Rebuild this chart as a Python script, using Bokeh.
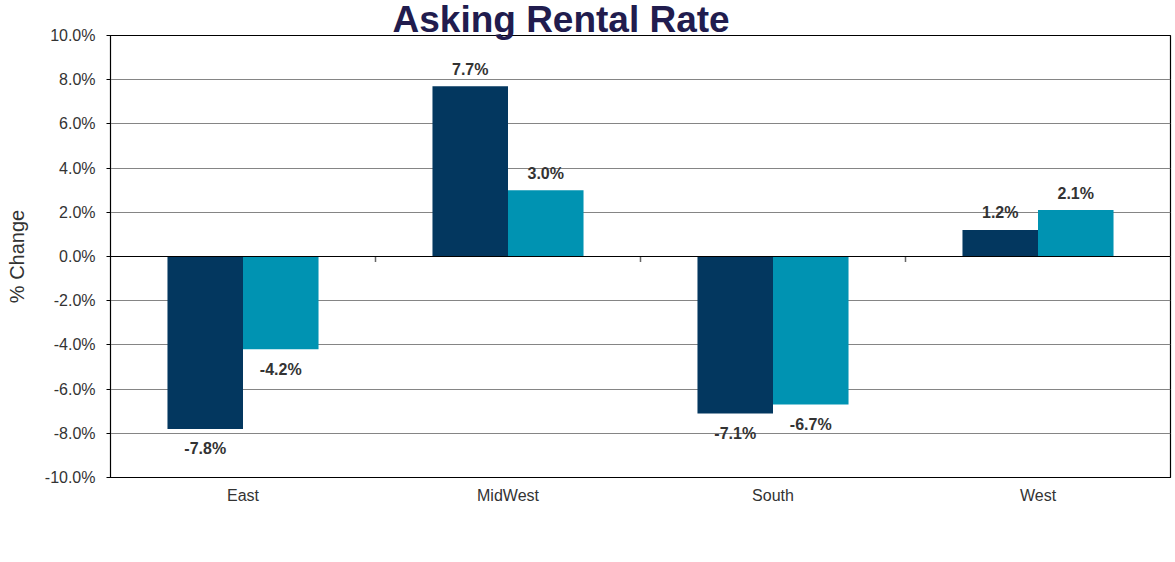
from bokeh.plotting import figure
from bokeh.models import (ColumnDataSource, FactorRange, Range1d, Span, Legend, LegendItem,
                          FixedTicker, PrintfTickFormatter)
from bokeh.transform import dodge
from bokeh.core.properties import value
from bokeh.embed import file_html
from bokeh.resources import INLINE

regions = ["East", "MidWest", "South", "West"]
median = [-7.8, 7.7, -7.1, 1.2]
average = [-4.2, 3.0, -6.7, 2.1]
y_ticks = [-10, -8, -6, -4, -2, 0, 2, 4, 6, 8, 10]
title_text = "Asking Rental Rate"
y_label = "% Change"
series_names = ["Median", "Average"]

C_MED = "#03375F"
C_AVG = "#0093B2"
TXT = "#333333"
FONT = "Liberation Sans"

p = figure(x_range=FactorRange(factors=regions, range_padding=0), y_range=Range1d(-10, 10),
           frame_width=1060, frame_height=442, output_backend="svg", toolbar_location=None,
           min_border_left=110, min_border_right=2, min_border_top=35, min_border_bottom=80)
p.background_fill_color = "white"
p.border_fill_color = "white"
p.outline_line_color = "black"
p.outline_line_width = 1.2

# title
p.title.text = title_text
p.title.align = "left"
p.title.offset = 282
p.title.standoff = -9
p.title.text_font = FONT
p.title.text_font_size = "37px"
p.title.text_font_style = "bold"
p.title.text_color = "#211C4E"

def lab(v):
    return f"{v:.1f}%"

src = ColumnDataSource(dict(
    x=regions, med=median, avg=average,
    med_lab=[lab(v) for v in median], avg_lab=[lab(v) for v in average],
    med_off=[-17 if v >= 0 else 20 for v in median],
    avg_off=[-17 if v >= 0 else 20 for v in average],
))

bw = 0.285
r_med = p.vbar(x=dodge("x", -bw / 2, range=p.x_range), top="med", bottom=0, width=bw,
               source=src, fill_color=C_MED, line_color=None)
r_avg = p.vbar(x=dodge("x", bw / 2, range=p.x_range), top="avg", bottom=0, width=bw,
               source=src, fill_color=C_AVG, line_color=None)

p.text(x=dodge("x", -bw / 2, range=p.x_range), y="med", text="med_lab", y_offset="med_off",
       source=src, text_align="center", text_baseline="middle", text_font=value(FONT),
       text_font_size="16px", text_font_style="bold", text_color=TXT)
p.text(x=dodge("x", bw / 2, range=p.x_range), y="avg", text="avg_lab", y_offset="avg_off",
       source=src, text_align="center", text_baseline="middle", text_font=value(FONT),
       text_font_size="16px", text_font_style="bold", text_color=TXT)

# zero line and category separator ticks
p.add_layout(Span(location=0, dimension="width", line_color="black", line_width=1.2))
bsrc = ColumnDataSource(dict(b=regions[:-1], y0=[0] * 3, y1=[-0.25] * 3))
p.segment(x0=dodge("b", 0.5, range=p.x_range), x1=dodge("b", 0.5, range=p.x_range),
          y0="y0", y1="y1", source=bsrc, line_color="#666666", line_width=1.5)

# grid
p.xgrid.grid_line_color = None
p.ygrid.ticker = FixedTicker(ticks=y_ticks)
p.ygrid.grid_line_color = "#858585"
p.ygrid.grid_line_width = 1.2

# y axis
p.yaxis.ticker = FixedTicker(ticks=y_ticks)
p.yaxis.formatter = PrintfTickFormatter(format="%.1f%%")
p.yaxis.major_label_text_font = FONT
p.yaxis.major_label_text_font_size = "16px"
p.yaxis.major_label_text_color = TXT
p.yaxis.major_tick_out = 4
p.yaxis.major_tick_in = 0
p.yaxis.minor_tick_line_color = None
p.yaxis.major_tick_line_color = "black"
p.yaxis.axis_line_color = "black"
p.yaxis.major_label_standoff = 11
p.yaxis.axis_label = y_label
p.yaxis.axis_label_text_font = FONT
p.yaxis.axis_label_text_font_size = "20px"
p.yaxis.axis_label_text_font_style = "normal"
p.yaxis.axis_label_text_color = TXT
p.yaxis.axis_label_standoff = 14

# x axis
p.xaxis.major_label_text_font = FONT
p.xaxis.major_label_text_font_size = "16px"
p.xaxis.major_label_text_color = TXT
p.xaxis.major_tick_line_color = None
p.xaxis.minor_tick_line_color = None
p.xaxis.axis_line_color = "black"
p.xaxis.major_label_standoff = 3

# legend below the frame
legend = Legend(items=[LegendItem(label=series_names[0], renderers=[r_med]),
                       LegendItem(label=series_names[1], renderers=[r_avg])],
                orientation="horizontal", location=(349, 0),
                label_text_font=FONT, label_text_font_size="20px", label_text_color=TXT,
                glyph_width=12, glyph_height=12, spacing=70, label_standoff=5,
                border_line_color=None, background_fill_alpha=0, margin=0, padding=4)
p.add_layout(legend, "below")

open("out.html", "w").write(file_html(p, INLINE))
